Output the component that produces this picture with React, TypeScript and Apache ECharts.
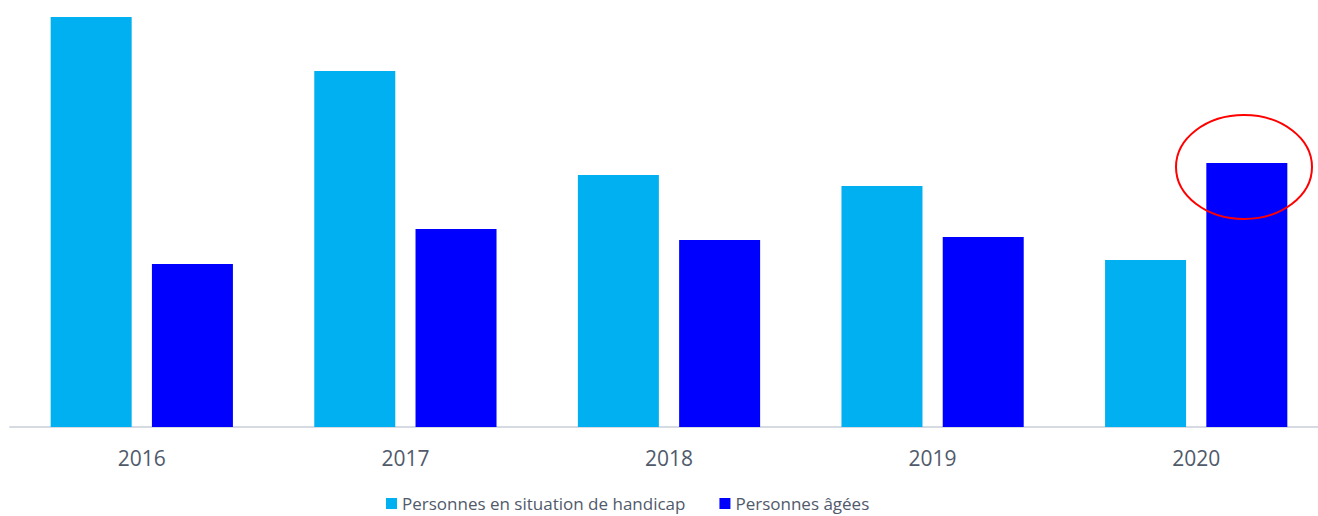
import React, { useEffect, useRef } from "react";
import * as echarts from "echarts";

const years = ["2016", "2017", "2018", "2019", "2020"];
const handicap = [410, 356, 252, 241, 167];
const agees = [163, 198, 187, 190, 264];
const seriesNames = ["Personnes en situation de handicap", "Personnes âgées"];

export default function App() {
  const ref = useRef<HTMLDivElement>(null);
  useEffect(() => {
    const chart = echarts.init(ref.current!, undefined, { renderer: "svg" });
    chart.setOption({
      animation: false,
      backgroundColor: "#ffffff",
      grid: { left: 10, right: 0, top: 7, bottom: 89, containLabel: false },
      legend: {
        left: 381,
        top: 490,
        itemWidth: 11,
        itemHeight: 11,
        itemGap: 34,
        icon: "rect",
        textStyle: { fontFamily: "Open Sans", fontSize: 17, color: "#505a6b" },
        data: seriesNames,
      },
      xAxis: {
        type: "category",
        data: years,
        axisLine: { lineStyle: { color: "#d6dae2", width: 2 } },
        axisTick: { show: false },
        axisLabel: { fontFamily: "Open Sans", fontSize: 21, color: "#505a6b", margin: 20 },
      },
      yAxis: {
        type: "value",
        min: 0,
        max: 420,
        show: false,
        splitLine: { show: false },
      },
      series: [
        {
          name: seriesNames[0],
          type: "bar",
          data: handicap,
          barWidth: 81,
          barGap: "25%",
          itemStyle: { color: "#00b0f0" },
        },
        {
          name: seriesNames[1],
          type: "bar",
          data: agees,
          barWidth: 81,
          itemStyle: { color: "#0000ff" },
        },
      ],
      graphic: [
        {
          type: "ellipse",
          shape: { cx: 1244, cy: 167, rx: 68, ry: 52 },
          style: { fill: "none", stroke: "#ff0000", lineWidth: 2 },
          z: 100,
        },
      ],
    });
    return () => chart.dispose();
  }, []);
  return (
    <div
      style={{
        position: "fixed",
        left: 0,
        top: 0,
        width: 1318,
        height: 516,
        overflow: "hidden",
        background: "#ffffff",
      }}
    >
      <div ref={ref} style={{ width: 1328, height: 516 }} />
    </div>
  );
}
